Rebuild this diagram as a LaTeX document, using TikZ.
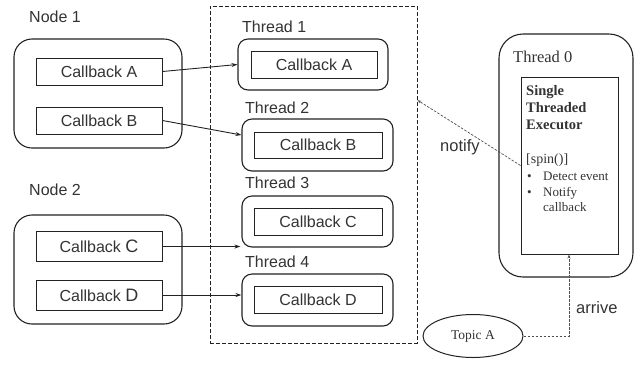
\documentclass[tikz,border=0pt]{standalone}
\usepackage{fontspec}
\setmainfont{Liberation Serif}
\newfontfamily\arial{Liberation Sans}
\usetikzlibrary{shapes.geometric,arrows.meta,calc}

\definecolor{ink}{HTML}{222222}
\definecolor{txt}{HTML}{333333}

\tikzset{
  sans/.style={font=\arial\fontsize{16}{18}\selectfont, text=txt},
  serif/.style={font=\fontsize{16.5}{18}\selectfont, text=txt},
  cbbox/.style={draw=ink, line width=1pt, rectangle, minimum width=126pt,
    minimum height=27pt, inner sep=0pt, sans},
  nodebox/.style={draw=ink, line width=1.1pt, rounded corners=18pt,
    minimum width=168pt, minimum height=109pt, inner sep=0pt},
  thbox/.style={draw=ink, line width=1.1pt, rounded corners=10pt,
    minimum width=151pt, minimum height=52pt, inner sep=0pt},
  lbl/.style={sans, anchor=base west, inner sep=0pt},
  conn/.style={draw=ink, line width=0.9pt, -{Stealth[length=6pt,width=4pt]}},
  dconn/.style={draw=ink!80, line width=0.7pt, dash pattern=on 2.5pt off 1.5pt,
    -{Stealth[length=4pt,width=3pt]}},
  exe/.style={font=\bfseries\fontsize{14.5}{17}\selectfont, text=txt,
    anchor=base west, inner sep=0pt},
  exi/.style={font=\fontsize{13}{15}\selectfont, text=txt,
    anchor=base west, inner sep=0pt},
}

\begin{document}
\begin{tikzpicture}[x=1pt,y=-1pt]
\useasboundingbox (0,0) rectangle (636,365);

% Node 1 and its callbacks
\node[lbl] (n1lbl) at (29,22) {Node 1};
\node[nodebox] (n1) at (98,93.5) {};
\node[cbbox] (cbA) at (99,71.5) {Callback A};
\node[cbbox] (cbB) at (99,120.5) {Callback B};

% Node 2 and its callbacks
\node[lbl] (n2lbl) at (29,195) {Node 2};
\node[nodebox] (n2) at (98,269.5) {};
\node[cbbox, minimum height=30pt] (cbC) at (99,246.5)
  {Callback {\fontsize{18}{18}\selectfont C}};
\node[cbbox, minimum height=30pt] (cbD) at (99,295)
  {Callback {\fontsize{18}{18}\selectfont D}};

% Thread pool
\node[draw=ink, line width=1pt, dash pattern=on 4pt off 2pt,
  minimum width=207pt, minimum height=337pt, inner sep=0pt] (pool) at (313.5,174.5) {};

\node[lbl] (t1lbl) at (242,32) {Thread 1};
\node[thbox, minimum width=150pt, minimum height=51pt] (t1) at (313,64.5) {};
\node[cbbox] (tA) at (314,64.5) {Callback A};

\node[lbl] (t2lbl) at (245,113) {Thread 2};
\node[thbox] (t2) at (317.5,145) {};
\node[cbbox, minimum width=128pt, minimum height=26pt] (tB) at (318,145) {Callback B};

\node[lbl] (t3lbl) at (245,188) {Thread 3};
\node[thbox, minimum height=51pt] (t3) at (317.5,221.5) {};
\node[cbbox, minimum width=128pt] (tC) at (318,221.5) {Callback C};

\node[lbl] (t4lbl) at (245,267) {Thread 4};
\node[thbox] (t4) at (317.5,300) {};
\node[cbbox, minimum width=128pt] (tD) at (318,299.5) {Callback D};

% Callback to thread assignments
\draw[conn] (cbA.east) -- (t1.west);
\draw[conn] (cbB.east) -- ([yshift=10pt]t2.west);
\draw[conn] (cbC.east) -- ([xshift=-1pt]cbC.east -| t3.west);
\draw[conn] (cbD.east) -- (cbD.east -| t4.west);

% Thread 0 with the executor
\node[draw=ink, line width=1.1pt, rounded corners=24pt, minimum width=134pt,
  minimum height=243pt, inner sep=0pt] (t0) at (566,155.5) {};
\node[serif, anchor=base west, inner sep=0pt] (t0lbl) at (513,62) {Thread 0};
\node[draw=ink, line width=1pt, minimum width=97pt, minimum height=177pt,
  inner sep=0pt] (exec) at (569.5,165.5) {};
\node[exe] (e1) at (526,95) {Single};
\node[exe] (e2) at (526,112) {Threaded};
\node[exe] (e3) at (526,129) {Executor};
\node[exi, font=\fontsize{14}{15}\selectfont] (e4) at (526,163) {[spin()]};
\node[exi] (b1) at (527,180) {•};
\node[exi] (e5) at (543,180) {Detect event};
\node[exi] (b2) at (527,196) {•};
\node[exi] (e6) at (543,196) {Notify};
\node[exi] (e7) at (543,211) {callback};

% Topic
\node[draw=ink, line width=1pt, ellipse, minimum width=100pt, minimum height=43pt,
  inner sep=0pt, font=\fontsize{13.5}{15}\selectfont, text=txt] (topic) at (473,336) {Topic A};

% Event flow
\draw[dconn] (exec.west) -- ($(pool.north east)!0.28!(pool.south east)$);
\node[sans, font=\arial\fontsize{16.5}{18}\selectfont, anchor=base west, inner sep=0pt]
  (notify) at (440,151) {notify};
\draw[dconn] (topic.east) -| ([xshift=-0.5pt]exec.south);
\node[sans, font=\arial\fontsize{16.5}{18}\selectfont, anchor=base west, inner sep=0pt]
  (arrive) at (576,313) {arrive};
\end{tikzpicture}
\end{document}
